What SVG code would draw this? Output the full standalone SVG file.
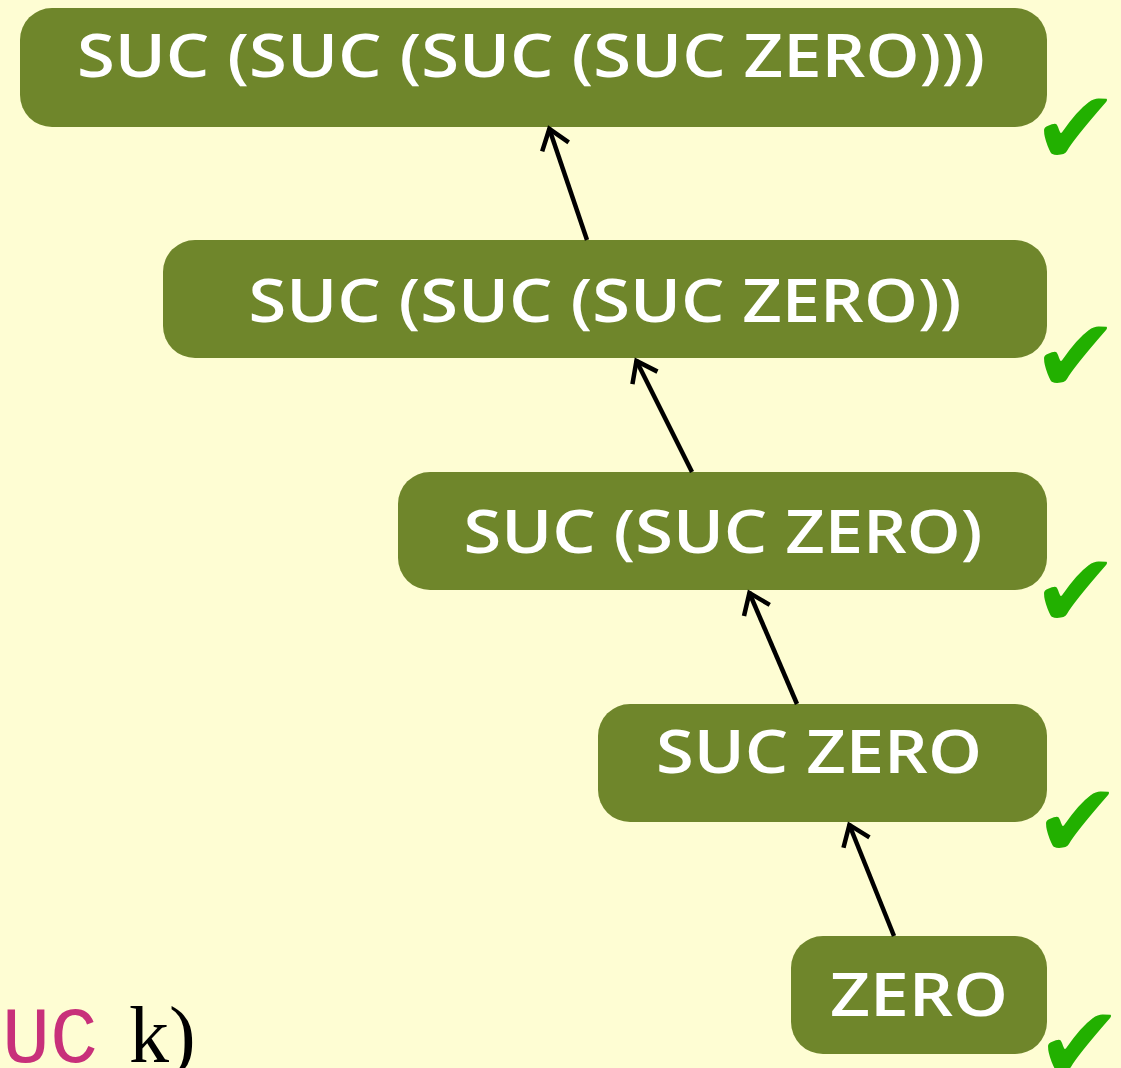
<svg xmlns="http://www.w3.org/2000/svg" width="1121" height="1068" viewBox="0 0 1121 1068">
  <style>
    .box { fill: #6f862b; }
    .lbl { font-family: "Open Sans", Lato, sans-serif; font-weight: 600; font-size: 60px; fill: #ffffff; text-anchor: middle; }
    .tick { font-family: "DejaVu Sans", sans-serif; font-size: 104px; fill: #22b000; }
    .edge { stroke: #000; stroke-width: 4.5; fill: none; }
    .head { stroke: #000; stroke-width: 4.5; fill: none; stroke-linecap: butt; stroke-linejoin: miter; }
  </style>
  <defs>
    <marker id="arrow" viewBox="0 0 36 36" refX="32" refY="18" markerWidth="36" markerHeight="36" markerUnits="userSpaceOnUse" orient="auto">
      <path d="M12 4 L31 18 L12 32" class="head"/>
    </marker>
  </defs>
  <rect width="1121" height="1068" fill="#fefdd3"/>

  <!-- fragment of a code line at the lower left -->
  <text x="2" y="1062" font-family="'Liberation Mono', monospace" font-size="80" fill="#c8307a">UC</text>
  <text x="129" y="1062" font-family="'Liberation Serif', serif" font-size="80" fill="#000">k)</text>

  <g id="n4">
    <rect class="box" x="20" y="8" width="1027" height="119" rx="32"/>
    <text class="lbl" x="531" y="77" textLength="908" lengthAdjust="spacingAndGlyphs">SUC (SUC (SUC (SUC ZERO)))</text>
    <text class="tick" x="1032" y="164">✔</text>
  </g>
  <g id="n3">
    <rect class="box" x="163" y="240" width="884" height="118" rx="32"/>
    <text class="lbl" x="605" y="322" textLength="713" lengthAdjust="spacingAndGlyphs">SUC (SUC (SUC ZERO))</text>
    <text class="tick" x="1032" y="392">✔</text>
  </g>
  <g id="n2">
    <rect class="box" x="398" y="472" width="649" height="118" rx="32"/>
    <text class="lbl" x="723" y="553" textLength="519" lengthAdjust="spacingAndGlyphs">SUC (SUC ZERO)</text>
    <text class="tick" x="1032" y="627">✔</text>
  </g>
  <g id="n1">
    <rect class="box" x="598" y="704" width="449" height="118" rx="32"/>
    <text class="lbl" x="819" y="773" textLength="326" lengthAdjust="spacingAndGlyphs">SUC ZERO</text>
    <text class="tick" x="1034" y="857">✔</text>
  </g>
  <g id="n0">
    <rect class="box" x="791" y="936" width="256" height="118" rx="32"/>
    <text class="lbl" x="919" y="1016" textLength="178" lengthAdjust="spacingAndGlyphs">ZERO</text>
    <text class="tick" x="1036" y="1080">✔</text>
  </g>

  <g id="connectors">
    <line class="edge" x1="587" y1="240" x2="549" y2="128" marker-end="url(#arrow)"/>
    <line class="edge" x1="692" y1="472" x2="636" y2="360" marker-end="url(#arrow)"/>
    <line class="edge" x1="797" y1="704" x2="749" y2="592" marker-end="url(#arrow)"/>
    <line class="edge" x1="894" y1="936" x2="849" y2="824" marker-end="url(#arrow)"/>
  </g>
</svg>
